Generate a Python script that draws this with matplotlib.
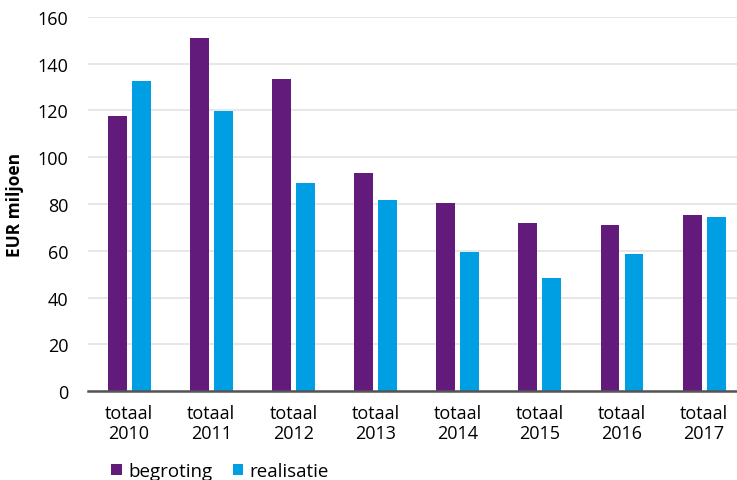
import matplotlib.pyplot as plt
import numpy as np

categories = ["totaal\n2010", "totaal\n2011", "totaal\n2012", "totaal\n2013",
              "totaal\n2014", "totaal\n2015", "totaal\n2016", "totaal\n2017"]
begroting = [117.6, 151.0, 133.5, 93.3, 80.4, 71.7, 70.9, 75.2]
realisatie = [132.6, 119.8, 89.0, 81.7, 59.3, 48.2, 58.5, 74.3]
yticks = [0, 20, 40, 60, 80, 100, 120, 140, 160]

plt.rcParams['font.family'] = ['Open Sans', 'DejaVu Sans']

fig = plt.figure(figsize=(7.37, 4.81), dpi=100)
ax = fig.add_axes([0.1194, 0.185, 0.8806, 0.7776])

x = np.arange(len(categories))
w = 0.23
ax.bar(x - 0.146, begroting, width=w, color='#621b7a', label='begroting', zorder=3)
ax.bar(x + 0.146, realisatie, width=w, color='#009fe3', label='realisatie', zorder=3)

ax.set_xlim(-0.5, 7.4)
ax.set_ylim(0, 160)
ax.set_yticks(yticks)
ax.set_xticks(x)
ax.set_xticklabels(categories, fontsize=13, linespacing=1.2)
ax.tick_params(axis='y', length=0, labelsize=13, pad=14)
ax.tick_params(axis='x', length=0, labelsize=13, pad=9)
ax.grid(axis='y', color='#e3e3e3', linewidth=1.2, zorder=0)

for s in ['top', 'right', 'left']:
    ax.spines[s].set_visible(False)
ax.spines['bottom'].set_color('#555555')
ax.spines['bottom'].set_linewidth(1.8)
ax.spines['bottom'].set_zorder(4)

ax.set_ylabel('EUR miljoen', fontsize=12.5, fontweight='bold', labelpad=10)

fig.legend(loc='lower left', bbox_to_anchor=(0.128, -0.035), ncol=2, frameon=False,
           fontsize=13.5, handlelength=0.55, handleheight=0.55, handletextpad=0.35,
           columnspacing=1.1)

plt.savefig('out.png', dpi=100)
